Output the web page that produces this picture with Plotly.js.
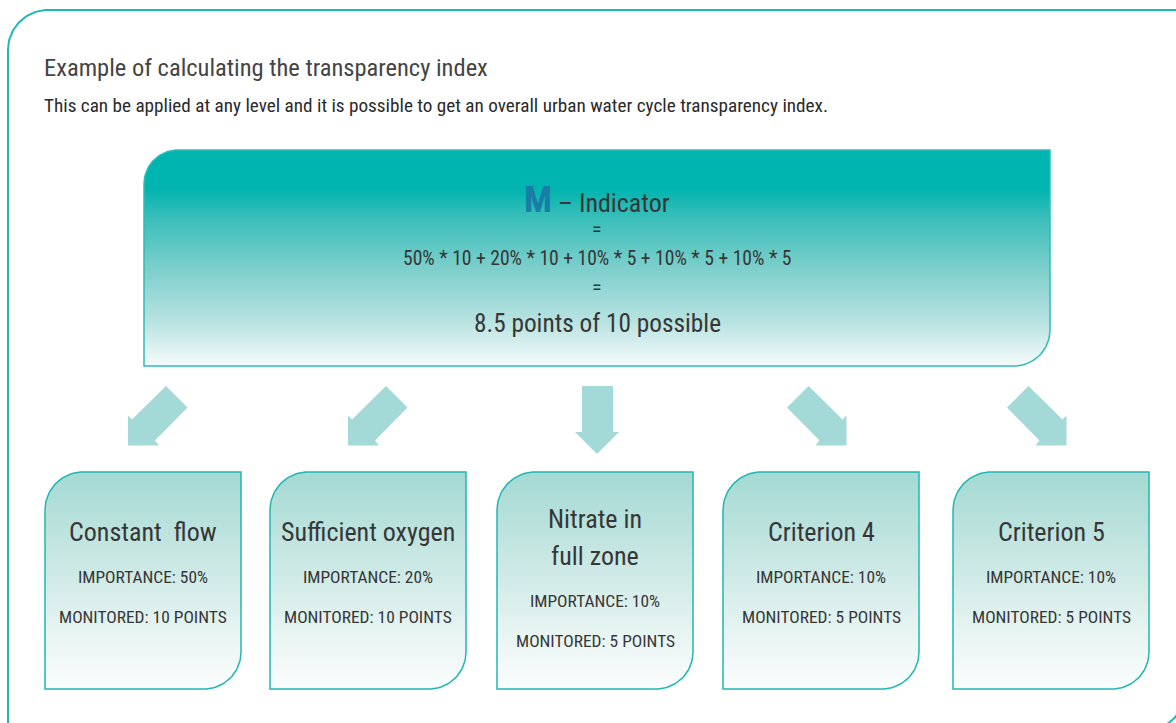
<!DOCTYPE html>
<html>
<head>
<meta charset="utf-8">
<script src="https://cdn.plot.ly/plotly-3.0.1.min.js"></script>
<style>html,body{margin:0;padding:0;background:#fff;}#chart{width:1176px;height:723px;}</style>
</head>
<body>
<div id="chart"></div>
<script>
// ---- Data ----
const chartTitle = "Example of calculating the transparency index";
const chartSubtitle = "This can be applied at any level and it is possible to get an overall urban water cycle transparency index.";
const indicatorLetter = "M";
const indicatorLabel = "Indicator";
const criteria = ["Constant  flow", "Sufficient oxygen", "Nitrate in<br>full zone", "Criterion 4", "Criterion 5"];
const importancePct = [50, 20, 10, 10, 10];
const monitoredPoints = [10, 10, 5, 5, 5];
const maxPoints = 10;

// ---- Layout constants (pixels) ----
const W = 1176, H = 723;
const FONT = '"Roboto Condensed", "DejaVu Sans Condensed", sans-serif';
const TEXT = '#363636';
const BORDER = '#1fb7b2';
const ARROW = '#a3d9d6';
const boxLeft = [45, 270, 497, 723, 953];
const boxW = 196, boxTop = 472, boxBottom = 689;
const arrowLeft = [128, 348, 575, 787, 1007];
const arrowDir = ['dl', 'dl', 'd', 'dr', 'dr'];

function roundedRect(x0, y0, x1, y1, rTL, rBR) {
  const xs = [], ys = [];
  const N = 24;
  xs.push(x0 + rTL, x1, x1); ys.push(y0, y0, y1 - rBR);
  for (let i = 1; i <= N; i++) {
    const t = (Math.PI / 2) * i / N;
    xs.push(x1 - rBR + rBR * Math.cos(t)); ys.push(y1 - rBR + rBR * Math.sin(t));
  }
  xs.push(x0, x0); ys.push(y1, y0 + rTL);
  for (let i = 1; i <= N; i++) {
    const t = Math.PI + (Math.PI / 2) * i / N;
    xs.push(x0 + rTL + rTL * Math.cos(t)); ys.push(y0 + rTL + rTL * Math.sin(t));
  }
  return {x: xs, y: ys};
}

function arrowPath(left, topY, dir) {
  let pts;
  if (dir === 'd') {
    pts = [[7, 0], [38, 0], [38, 46], [44, 46], [22, 68], [0, 46], [7, 46]];
  } else {
    pts = [[0, 59.5], [0, 29.5], [4, 33.5], [38, 0], [59.5, 21.5], [27, 54.5], [31, 59.5]];
    if (dir === 'dr') pts = pts.map(p => [59.5 - p[0], p[1]]);
  }
  pts.push(pts[0]);
  return {x: pts.map(p => left + p[0]), y: pts.map(p => topY + p[1])};
}

const traces = [];
// outer frame
const outerFrame = roundedRect(8, 10, 1186, 731, 40, 42);
traces.push({x: outerFrame.x, y: outerFrame.y, mode: 'lines', line: {color: BORDER, width: 2}, hoverinfo: 'skip', showlegend: false});

// top box
const topBox = roundedRect(144, 150, 1050, 366, 34, 36);
traces.push({x: topBox.x, y: topBox.y, mode: 'lines', fill: 'toself', line: {color: '#2dbdb8', width: 1.5},
  fillgradient: {type: 'vertical', start: 150, stop: 366,
    colorscale: [[0, '#00b4b0'], [0.18, '#00b4b0'], [0.3, '#35bdb9'], [0.55, '#7dcfcc'], [0.8, '#b9e3e1'], [1, '#f6fbfb']]},
  hoverinfo: 'skip', showlegend: false});

// criterion boxes
criteria.forEach((c, i) => {
  const b = roundedRect(boxLeft[i], boxTop, boxLeft[i] + boxW, boxBottom, 38, 37);
  traces.push({x: b.x, y: b.y, mode: 'lines', fill: 'toself', line: {color: BORDER, width: 1.5},
    fillgradient: {type: 'vertical', start: boxTop, stop: boxBottom,
      colorscale: [[0, '#a4d9d3'], [0.45, '#cde9e5'], [0.75, '#e8f5f3'], [1, '#fbfdfd']]},
    hoverinfo: 'skip', showlegend: false});
  const a = arrowPath(arrowLeft[i], 386, arrowDir[i]);
  traces.push({x: a.x, y: a.y, mode: 'lines', fill: 'toself', fillcolor: ARROW, line: {color: ARROW, width: 0},
    hoverinfo: 'skip', showlegend: false});
});

// ---- Annotations ----
const ann = [];
function txt(x, y, text, size, opts) {
  ann.push(Object.assign({x: x, y: y, xref: 'x', yref: 'y', text: text, showarrow: false,
    xanchor: 'center', yanchor: 'middle', font: {family: FONT, size: size, color: TEXT}}, opts || {}));
}
txt(42, 67, chartTitle, 24.5, {xanchor: 'left', font: {family: FONT, size: 24.5, color: '#444444'}});
txt(42, 105, chartSubtitle, 19.2, {xanchor: 'left', font: {family: FONT, size: 19.2, color: '#2a2a2a'}});

const cx = 597;
txt(cx, 199, '<b><span style="color:#1a7da6;font-size:37px">' + indicatorLetter + '</span></b> – ' + indicatorLabel, 26);
txt(cx, 229, '=', 20);
const formula = importancePct.map((p, i) => p + '% * ' + monitoredPoints[i]).join(' + ');
txt(cx, 258, formula, 19.6);
txt(cx, 287, '=', 20);
const total = importancePct.reduce((s, p, i) => s + p / 100 * monitoredPoints[i], 0);
txt(cx, 323, total.toFixed(1) + ' points of ' + maxPoints + ' possible', 25.3);

criteria.forEach((c, i) => {
  const bx = boxLeft[i] + boxW / 2;
  const lines = c.split('<br>');
  let y = lines.length > 1 ? 519 : 532;
  lines.forEach((l, k) => txt(bx, y + k * 37, l, 26));
  const base = lines.length > 1 ? 556 : 532;
  txt(bx, base + 45, 'IMPORTANCE: ' + importancePct[i] + '%', 17.4);
  txt(bx, base + 85, 'MONITORED: ' + monitoredPoints[i] + ' POINTS', 17.4);
});

const layout = {
  width: W, height: H,
  margin: {l: 0, r: 0, t: 0, b: 0},
  paper_bgcolor: '#ffffff', plot_bgcolor: '#ffffff',
  xaxis: {range: [0, W], visible: false, fixedrange: true},
  yaxis: {range: [H, 0], visible: false, fixedrange: true},
  annotations: ann,
  showlegend: false
};
Plotly.newPlot('chart', traces, layout, {staticPlot: true, displayModeBar: false});
</script>
</body>
</html>
